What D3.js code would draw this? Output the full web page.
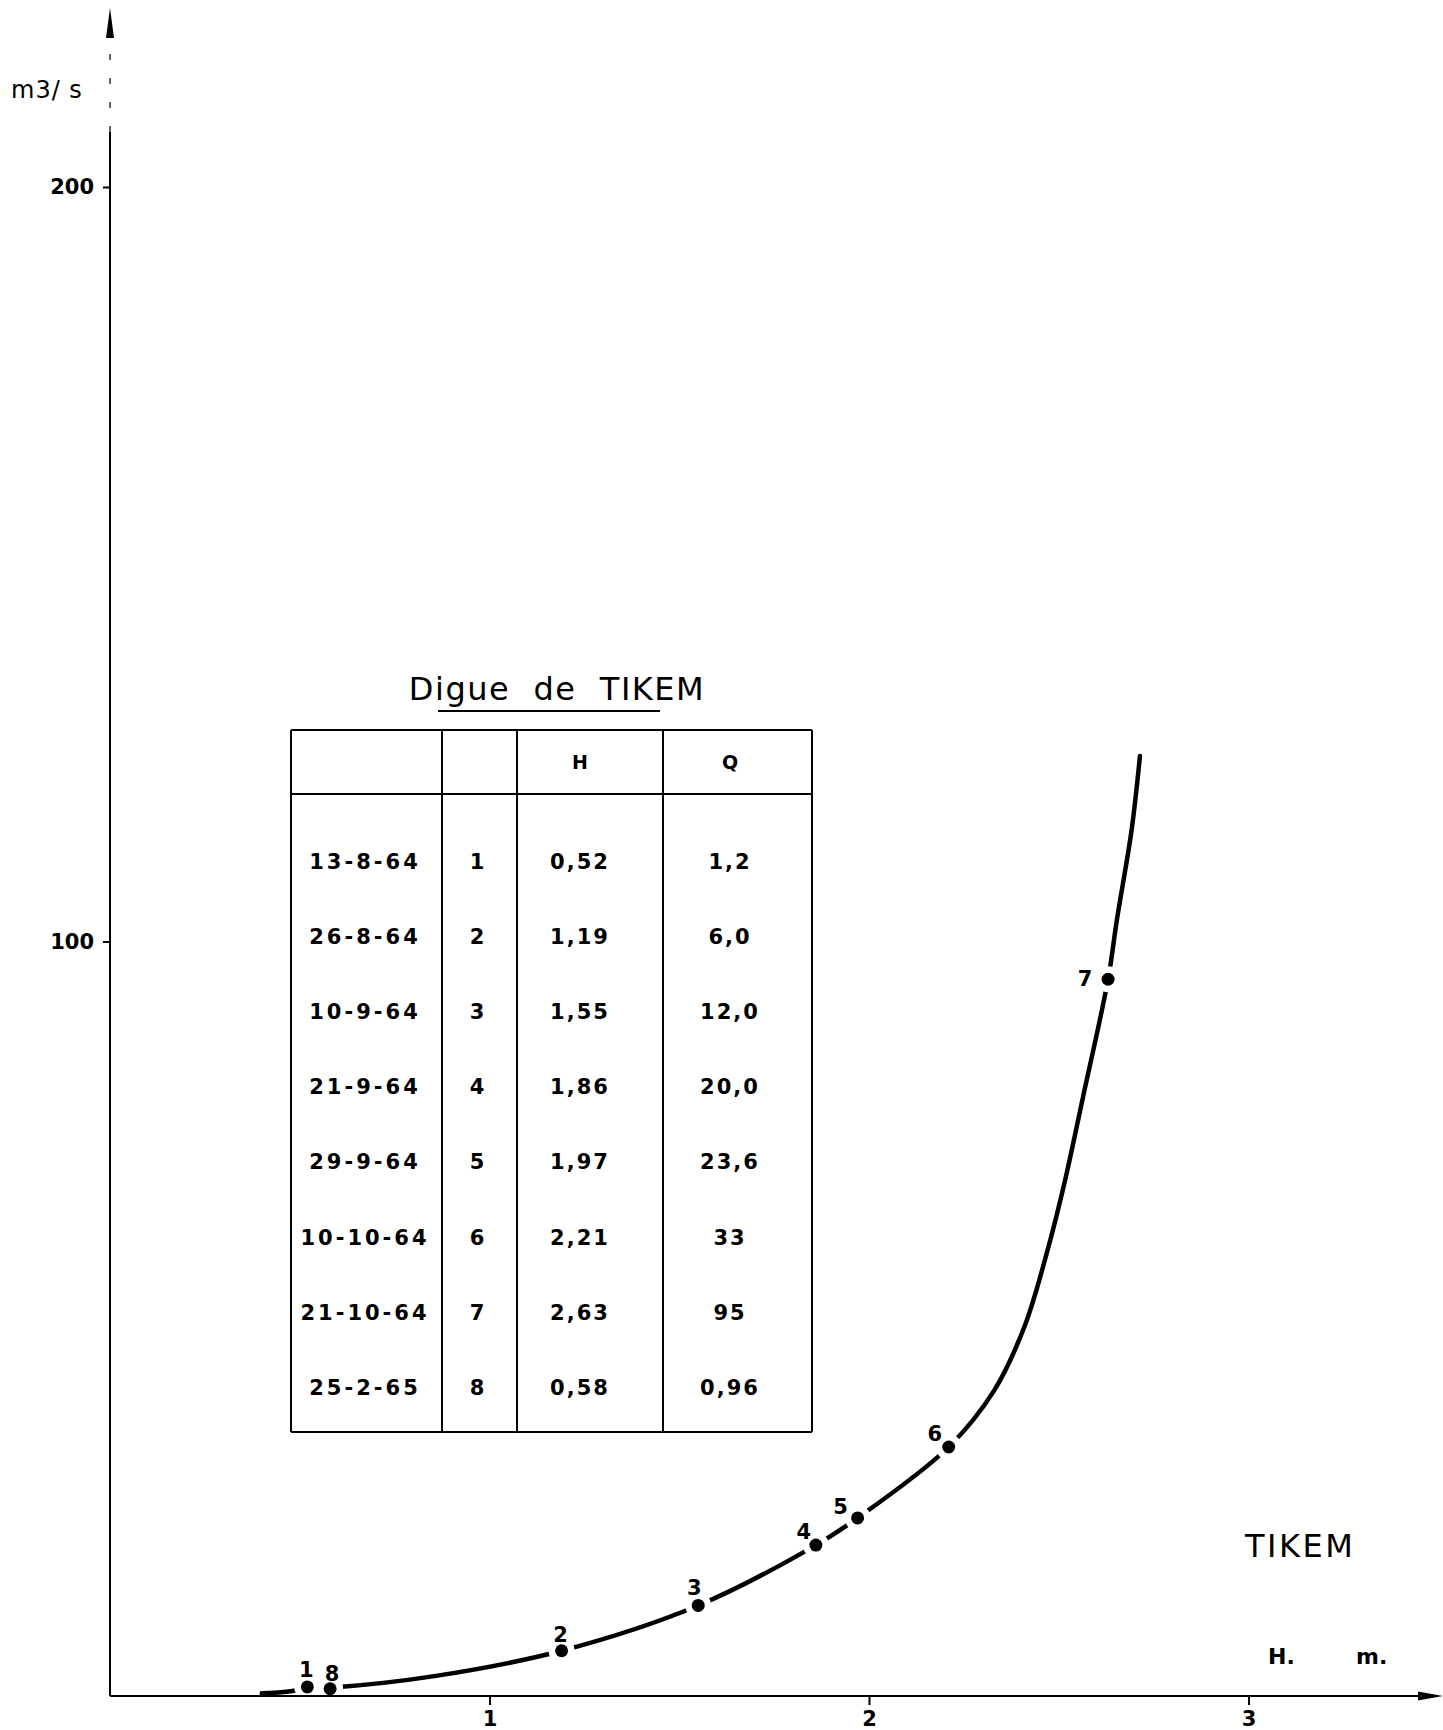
<!DOCTYPE html>
<html>
<head>
<meta charset="utf-8">
<script src="https://cdn.jsdelivr.net/npm/d3@7"></script>
<style>
  html, body { margin: 0; padding: 0; background: #fff; }
  svg { display: block; }
  .lbl { font-family: "DejaVu Sans", sans-serif; font-weight: bold; fill: #000; }
</style>
</head>
<body>
<svg id="chart" width="1443" height="1730"></svg>
<script>
// Jaugeages de la digue de TIKEM
const dates   = ["13-8-64", "26-8-64", "10-9-64", "21-9-64", "29-9-64", "10-10-64", "21-10-64", "25-2-65"];
const ids     = [1, 2, 3, 4, 5, 6, 7, 8];
const hValues = [0.52, 1.19, 1.55, 1.86, 1.97, 2.21, 2.63, 0.58];
const qValues = [1.2, 6.0, 12.0, 20.0, 23.6, 33, 95, 0.96];
const hText   = ["0,52", "1,19", "1,55", "1,86", "1,97", "2,21", "2,63", "0,58"];
const qText   = ["1,2", "6,0", "12,0", "20,0", "23,6", "33", "95", "0,96"];

// Courbe de tarage tracée à la main
const curveH = [0.40, 0.47, 0.52, 0.58, 0.85, 1.19, 1.55, 1.86, 1.97, 2.21, 2.33, 2.41, 2.47, 2.515, 2.564, 2.63, 2.653, 2.692, 2.714];
const curveQ = [0.35, 0.6, 1.0, 1.1, 2.6, 6.0, 12.0, 20.0, 23.6, 33, 40.5, 49, 59, 68, 79.4, 95, 102.8, 114.8, 124.6];

const xTicks = [1, 2, 3];
const yTicks = [100, 200];

// Label placement around each gauged point (dx, dy in px)
const labelOffset = {1: [-1, -17], 2: [-1, -16], 3: [-4, -17], 4: [-12, -13], 5: [-17, -11], 6: [-14, -13], 7: [-23, 0], 8: [2, -15]};

const svg = d3.select("#chart");
const x = d3.scaleLinear().domain([0, 3]).range([110, 1248.5]);
const y = d3.scaleLinear().domain([0, 200]).range([1696, 187]);

// ---- Axes ----
const xAxis = svg.append("g").attr("transform", `translate(0,${y(0)})`)
  .call(d3.axisBottom(x).tickValues(xTicks).tickSize(9).tickPadding(6).tickFormat(d3.format("d")));
xAxis.select(".domain").remove();
xAxis.selectAll(".tick line").attr("stroke", "#000").attr("stroke-width", 2);
xAxis.selectAll(".tick text").attr("class", "lbl").style("font-size", "21px");

const yAxis = svg.append("g").attr("transform", `translate(${x(0)},0)`)
  .call(d3.axisLeft(y).tickValues(yTicks).tickSize(7).tickPadding(9).tickFormat(d3.format("d")));
yAxis.select(".domain").remove();
yAxis.selectAll(".tick line").attr("stroke", "#000").attr("stroke-width", 2);
yAxis.selectAll(".tick text").attr("class", "lbl").style("font-size", "21px").style("font-weight", "bold");

// axis lines with arrows
svg.append("line").attr("x1", x(0)).attr("x2", 1422).attr("y1", y(0)).attr("y2", y(0))
  .attr("stroke", "#000").attr("stroke-width", 2.2);
svg.append("path").attr("d", `M1443,${y(0)} L1418,${y(0) - 4.5} L1418,${y(0) + 4.5} Z`).attr("fill", "#000");

svg.append("line").attr("x1", x(0)).attr("x2", x(0)).attr("y1", y(0)).attr("y2", 132)
  .attr("stroke", "#000").attr("stroke-width", 2);
svg.append("line").attr("x1", x(0)).attr("x2", x(0)).attr("y1", 132).attr("y2", 36)
  .attr("stroke", "#000").attr("stroke-width", 1.2).attr("stroke-dasharray", "6,18");
svg.append("path").attr("d", `M${x(0)},8 L${x(0) - 4},38 L${x(0) + 4},38 Z`).attr("fill", "#000");

svg.append("text").attr("x", 11).attr("y", 98)
  .style("font-family", "'DejaVu Sans', sans-serif").style("font-size", "24px").style("letter-spacing", "1px")
  .text("m3/ s");

svg.append("text").attr("class", "lbl").attr("x", 1268).attr("y", 1664).style("font-size", "22px").text("H.");
svg.append("text").attr("class", "lbl").attr("x", 1356).attr("y", 1664).style("font-size", "22px").text("m.");

svg.append("text").attr("x", 1245).attr("y", 1557)
  .style("font-family", "'DejaVu Sans', sans-serif").style("font-size", "32px").style("letter-spacing", "2.5px")
  .text("TIKEM");

// ---- Rating curve, broken around each point ----
const pts = ids.map((id, i) => ({id, h: hValues[i], q: qValues[i]}));
const defs = svg.append("defs");
const mask = defs.append("mask").attr("id", "gaps").attr("maskUnits", "userSpaceOnUse")
  .attr("x", 0).attr("y", 0).attr("width", 1443).attr("height", 1730);
mask.append("rect").attr("width", 1443).attr("height", 1730).attr("fill", "#fff");
mask.selectAll("circle").data(pts).join("circle")
  .attr("cx", d => x(d.h)).attr("cy", d => y(d.q)).attr("r", 13).attr("fill", "#000");

const line = d3.line().x(d => x(d[0])).y(d => y(d[1])).curve(d3.curveCatmullRom.alpha(0.5));
svg.append("path")
  .datum(curveH.map((h, i) => [h, curveQ[i]]))
  .attr("d", line)
  .attr("fill", "none").attr("stroke", "#000").attr("stroke-width", 4.5)
  .attr("stroke-linecap", "round")
  .attr("mask", "url(#gaps)");

svg.selectAll("circle.pt").data(pts).join("circle").attr("class", "pt")
  .attr("cx", d => x(d.h)).attr("cy", d => y(d.q)).attr("r", 6.5).attr("fill", "#000");

svg.selectAll("text.ptl").data(pts).join("text").attr("class", "lbl ptl")
  .attr("x", d => x(d.h) + labelOffset[d.id][0])
  .attr("y", d => y(d.q) + labelOffset[d.id][1])
  .attr("text-anchor", "middle").attr("dominant-baseline", "central")
  .style("font-size", "21px")
  .text(d => d.id);

// ---- Table ----
const tbl = svg.append("g");
const colX = [291, 442, 517, 663, 812];
const tTop = 730, tHead = 794, tBottom = 1432;
tbl.append("text").attr("x", 557).attr("y", 700).attr("text-anchor", "middle")
  .style("font-family", "'DejaVu Sans', sans-serif").style("font-size", "32px").style("letter-spacing", "1.5px")
  .style("white-space", "pre")
  .text("Digue  de  TIKEM");
tbl.append("line").attr("x1", 438).attr("x2", 660).attr("y1", 711).attr("y2", 711)
  .attr("stroke", "#000").attr("stroke-width", 2);

const stroke = (sel) => sel.attr("stroke", "#000").attr("stroke-width", 2);
tbl.append("line").attr("x1", colX[0]).attr("x2", colX[4]).attr("y1", tTop).attr("y2", tTop).call(stroke);
tbl.append("line").attr("x1", colX[0]).attr("x2", colX[4]).attr("y1", tHead).attr("y2", tHead).call(stroke);
tbl.append("line").attr("x1", colX[0]).attr("x2", colX[4]).attr("y1", tBottom).attr("y2", tBottom).call(stroke);
colX.forEach(cx => tbl.append("line").attr("x1", cx).attr("x2", cx).attr("y1", tTop).attr("y2", tBottom).call(stroke));

const colCenter = [365, 477, 580, 730];
tbl.append("text").attr("class", "lbl").attr("x", colCenter[2]).attr("y", 762)
  .attr("text-anchor", "middle").attr("dominant-baseline", "central").style("font-size", "19px").text("H");
tbl.append("text").attr("class", "lbl").attr("x", colCenter[3]).attr("y", 762)
  .attr("text-anchor", "middle").attr("dominant-baseline", "central").style("font-size", "19px").text("Q");

const rowY = i => 862 + i * 75.1;
const columns = [dates, ids.map(String), hText, qText];
const spacing = ["3px", "0px", "2px", "2px"];
columns.forEach((col, c) => {
  tbl.selectAll(null).data(col).join("text").attr("class", "lbl")
    .attr("x", colCenter[c]).attr("y", (d, i) => rowY(i))
    .attr("text-anchor", "middle").attr("dominant-baseline", "central")
    .style("font-size", "21px").style("letter-spacing", spacing[c])
    .text(d => d);
});
</script>
</body>
</html>
